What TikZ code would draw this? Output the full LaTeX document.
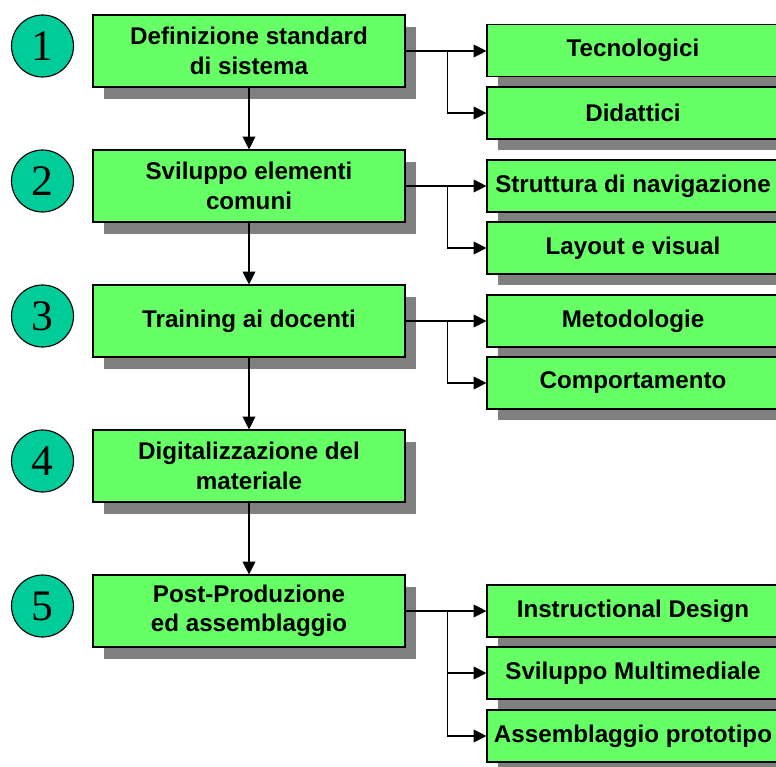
\documentclass[tikz,border=0pt]{standalone}
\usepackage{fontspec}
\setmainfont{Liberation Sans}
\newfontfamily\numfont{Liberation Serif}
\usetikzlibrary{positioning,arrows.meta,shadows}
\definecolor{boxgreen}{RGB}{102,255,102}
\definecolor{stepteal}{RGB}{0,204,153}
\tikzset{
  flowarrow/.style={-{Triangle[length=3.2mm, width=3.2mm]}, thick},
  phasebox/.style={draw, thick, fill=boxgreen, minimum width=7.8cm, minimum height=1.8cm, align=center,
    font=\bfseries\fontsize{17.2}{21}\selectfont,
    drop shadow={shadow xshift=0.28cm, shadow yshift=-0.3cm, fill=black!50, opacity=1}},
  subbox/.style={draw, thick, fill=boxgreen, minimum width=7.3cm, minimum height=1.3cm, align=center,
    font=\bfseries\fontsize{17.2}{21}\selectfont,
    drop shadow={shadow xshift=0.28cm, shadow yshift=-0.28cm, fill=black!50, opacity=1}},
  stepcircle/.style={circle, draw, thick, fill=stepteal, minimum size=1.55cm, inner sep=0pt,
    font=\numfont\fontsize{31}{31}\selectfont}
}
\begin{document}
\begin{tikzpicture}
  \useasboundingbox[fill=white] (0,0) rectangle (19.4,-19.175);
  % fasi
  \node[phasebox] (m1) at (6.225,-1.275) {Definizione standard\\di sistema};
  \node[phasebox] (m2) at (6.225,-4.65) {Sviluppo elementi\\comuni};
  \node[phasebox] (m3) at (6.225,-8.025) {Training ai docenti};
  \node[phasebox] (m4) at (6.225,-11.65) {Digitalizzazione del\\materiale};
  \node[phasebox] (m5) at (6.225,-15.275) {Post-Produzione\\ed assemblaggio};
  % numeri
  \node[stepcircle] (n1) at (1.0625,-1.15) {1};
  \node[stepcircle] (n2) at (1.0625,-4.525) {2};
  \node[stepcircle] (n3) at (1.0625,-7.9) {3};
  \node[stepcircle] (n4) at (1.0625,-11.525) {4};
  \node[stepcircle] (n5) at (1.0625,-15.15) {5};
  % sotto-attivita
  \node[subbox] (s11) at (15.825,-1.265) {Tecnologici};
  \node[subbox] (s12) at (15.825,-2.825) {Didattici};
  \node[subbox] (s21) at (15.825,-4.65) {Struttura di navigazione};
  \node[subbox] (s22) at (15.825,-6.2) {Layout e visual};
  \node[subbox] (s31) at (15.825,-8.025) {Metodologie};
  \node[subbox] (s32) at (15.825,-9.575) {Comportamento};
  \node[subbox] (s51) at (15.825,-15.275) {Instructional Design};
  \node[subbox] (s52) at (15.825,-16.825) {Sviluppo Multimediale};
  \node[subbox] (s53) at (15.825,-18.4) {Assemblaggio prototipo};
  % flusso principale
  \draw[flowarrow] (m1) -- (m2);
  \draw[flowarrow] (m2) -- (m3);
  \draw[flowarrow] (m3) -- (m4);
  \draw[flowarrow] (m4) -- (m5);
  % diramazioni
  \coordinate (j1) at ([xshift=1.05cm]m1.east);
  \coordinate (j2) at ([xshift=1.05cm]m2.east);
  \coordinate (j3) at ([xshift=1.05cm]m3.east);
  \coordinate (j5) at ([xshift=1.05cm]m5.east);
  \draw[flowarrow] (m1.east) -- (s11.west |- m1.east);
  \draw[flowarrow] (j1) |- (s12.west);
  \draw[flowarrow] (m2.east) -- (s21.west);
  \draw[flowarrow] (j2) |- (s22.west);
  \draw[flowarrow] (m3.east) -- (s31.west);
  \draw[flowarrow] (j3) |- (s32.west);
  \draw[flowarrow] (m5.east) -- (s51.west);
  \draw[flowarrow] (j5) |- (s52.west);
  \draw[flowarrow] (j5) |- (s53.west);
\end{tikzpicture}
\end{document}
